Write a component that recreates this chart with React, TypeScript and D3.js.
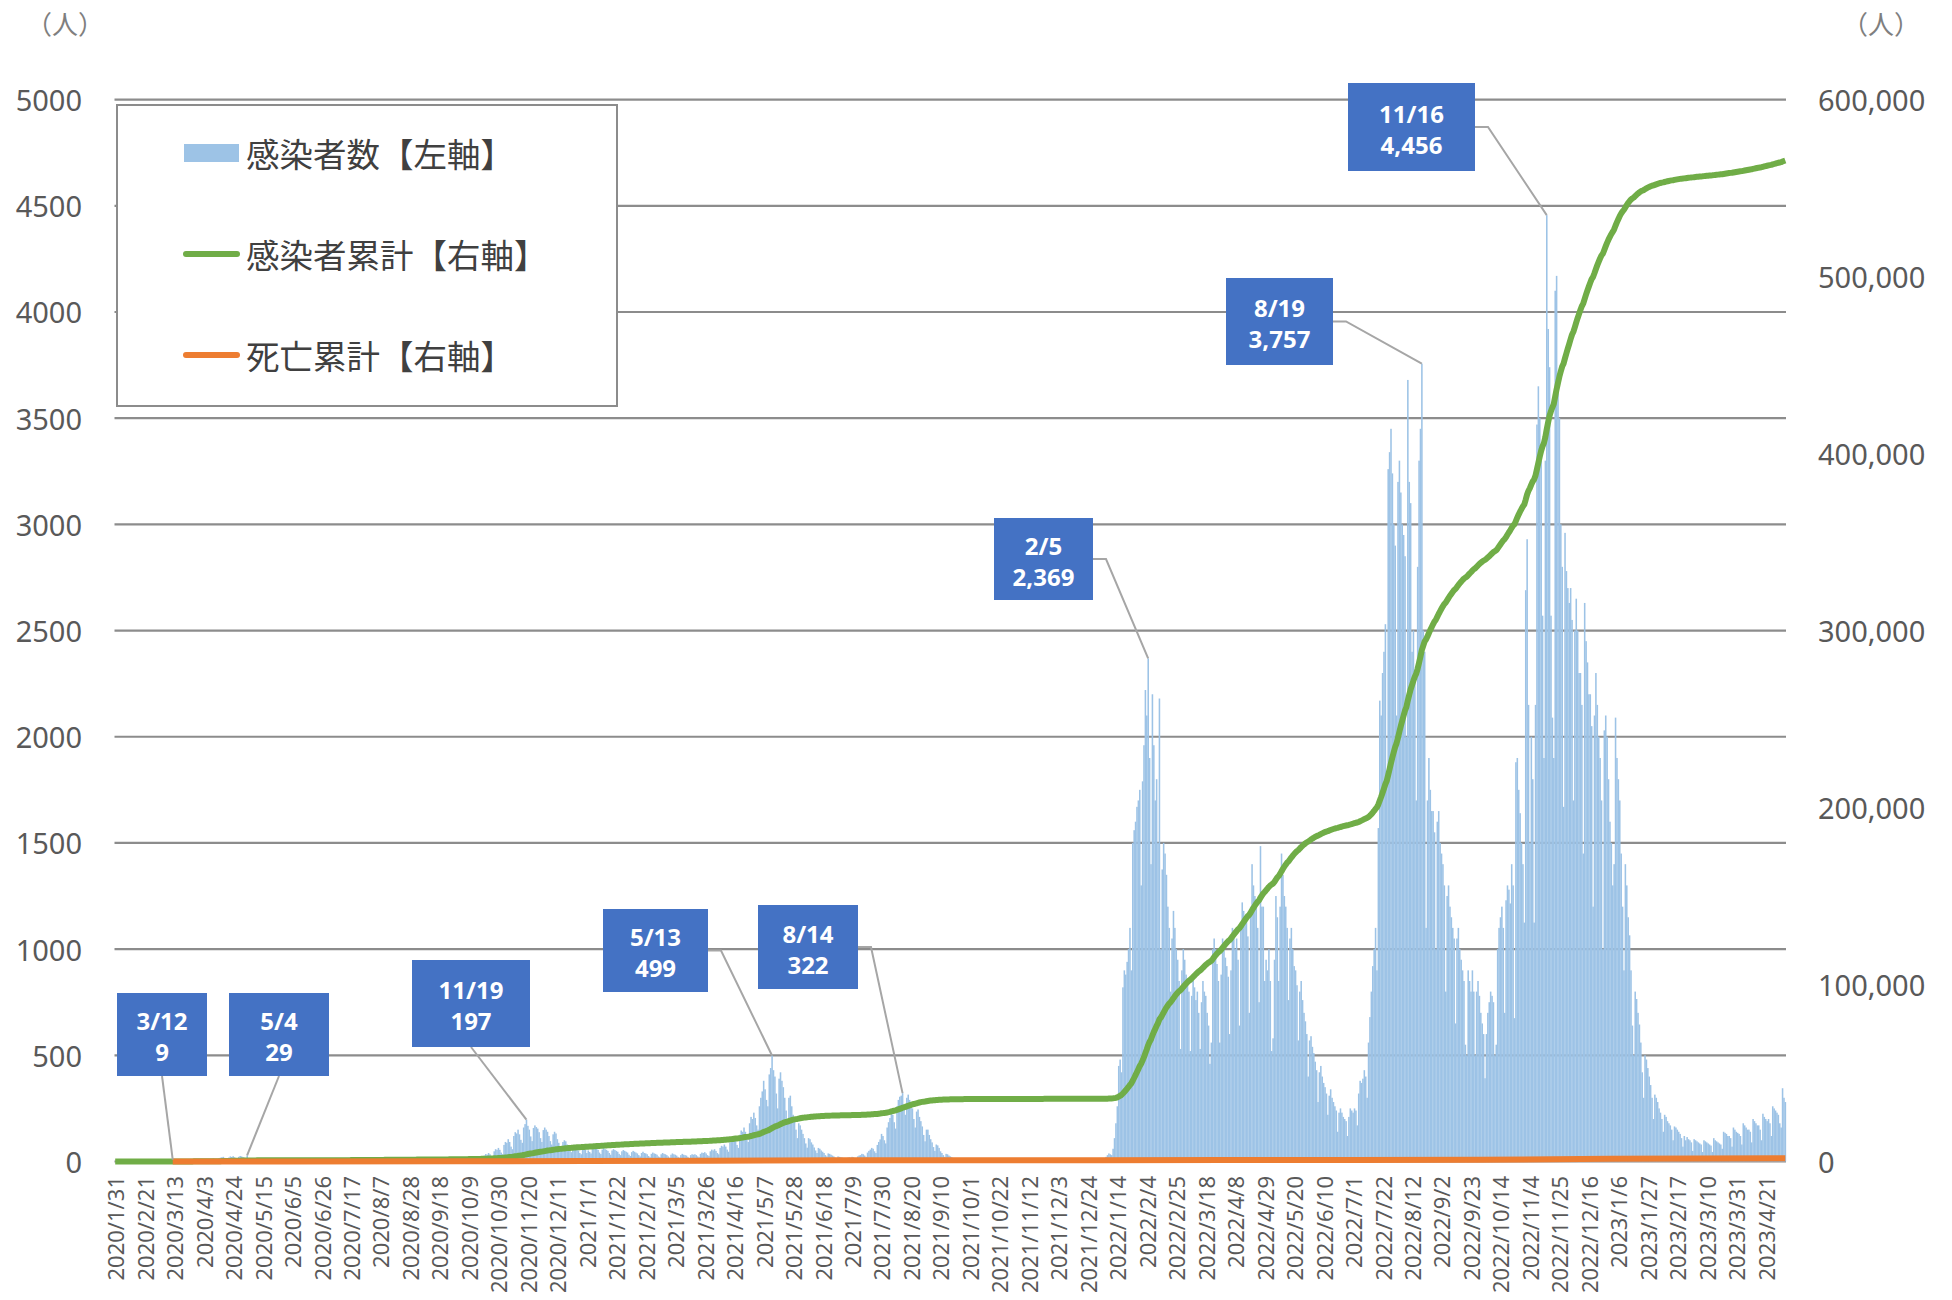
import React from "react";
import * as d3 from "d3";

// daily new cases, one row per week (2020 rows start on Friday 1/31)
const cases2020 = [
  0, 0, 0, 0, 0, 0, 0,
  0, 0, 0, 0, 0, 0, 0,
  0, 0, 0, 0, 1, 0, 0,
  0, 1, 0, 0, 1, 2, 1,
  2, 1, 0, 1, 2, 3, 2,
  3, 2, 1, 2, 4, 5, 9,
  4, 2, 1, 1, 3, 2, 2,
  1, 1, 0, 1, 2, 3, 2,
  3, 2, 1, 2, 4, 5, 3,
  5, 6, 4, 3, 8, 10, 12,
  14, 11, 9, 8, 15, 18, 20,
  22, 17, 12, 10, 19, 24, 21,
  25, 20, 15, 13, 22, 26, 24,
  21, 18, 16, 29, 12, 8, 10,
  9, 6, 4, 3, 5, 6, 4,
  3, 2, 1, 1, 2, 3, 2,
  1, 0, 1, 0, 1, 2, 1,
  1, 0, 0, 0, 1, 1, 0,
  1, 2, 0, 1, 2, 3, 1,
  2, 1, 1, 0, 2, 3, 2,
  3, 2, 1, 1, 3, 4, 2,
  2, 3, 1, 1, 2, 4, 3,
  3, 2, 2, 1, 4, 5, 3,
  4, 3, 2, 2, 5, 6, 4,
  5, 4, 3, 2, 6, 7, 5,
  6, 5, 4, 3, 7, 8, 6,
  8, 6, 5, 4, 9, 10, 8,
  9, 7, 5, 4, 8, 10, 9,
  8, 7, 5, 3, 7, 9, 8,
  7, 6, 4, 3, 6, 8, 7,
  6, 5, 4, 3, 6, 7, 6,
  6, 5, 3, 3, 5, 7, 6,
  7, 5, 4, 3, 6, 8, 7,
  8, 6, 5, 4, 7, 9, 8,
  9, 8, 6, 5, 10, 12, 11,
  12, 10, 8, 6, 13, 15, 14,
  16, 13, 10, 8, 18, 22, 20,
  24, 20, 15, 12, 28, 35, 32,
  40, 34, 26, 20, 48, 58, 55,
  64, 55, 42, 34, 78, 92, 88,
  105, 92, 70, 58, 120, 138, 132,
  150, 128, 102, 88, 160, 176, 197,
  168, 150, 118, 96, 158, 170, 162,
  155, 138, 110, 92, 148, 160, 150,
  140, 120, 96, 80, 128, 140, 132,
  105, 88, 70, 58, 92, 100, 95,
  80, 68, 52, 44, 70, 78, 72,
  62, 52, 40, 34, 55, 62, 58,
];

// 2021, rows start on Friday 1/1
const cases2021 = [
  40, 52, 45, 38, 58, 66, 62,
  60, 55, 42, 35, 56, 64, 58,
  55, 50, 40, 32, 52, 58, 54,
  50, 46, 36, 30, 48, 54, 50,
  46, 42, 32, 26, 44, 50, 46,
  42, 38, 30, 24, 40, 46, 40,
  38, 34, 26, 20, 36, 42, 38,
  36, 32, 24, 20, 34, 40, 36,
  34, 30, 24, 18, 32, 38, 34,
  32, 28, 22, 18, 30, 36, 32,
  30, 28, 22, 16, 30, 34, 32,
  34, 30, 24, 20, 36, 42, 40,
  44, 38, 30, 26, 48, 56, 52,
  58, 50, 40, 34, 64, 74, 70,
  80, 70, 56, 46, 90, 104, 98,
  112, 98, 78, 64, 126, 146, 140,
  160, 140, 112, 92, 180, 210, 200,
  230, 205, 170, 150, 260, 300, 330,
  380, 340, 290, 260, 410, 440, 499,
  430, 400, 320, 250, 390, 420, 380,
  350, 300, 240, 180, 300, 310, 260,
  220, 190, 150, 110, 180, 170, 150,
  130, 110, 85, 65, 110, 105, 90,
  80, 66, 52, 40, 64, 60, 52,
  46, 40, 30, 24, 38, 36, 32,
  28, 24, 18, 14, 24, 22, 20,
  18, 16, 12, 10, 18, 20, 18,
  22, 20, 16, 12, 24, 28, 30,
  36, 34, 28, 22, 42, 50, 56,
  64, 60, 48, 40, 78, 92, 104,
  130, 120, 100, 85, 160, 185, 205,
  230, 220, 185, 155, 260, 290, 305,
  310, 322, 270, 220, 300, 315, 290,
  280, 250, 200, 160, 235, 245, 210,
  190, 165, 125, 95, 150, 150, 125,
  105, 90, 68, 50, 80, 76, 64,
  48, 40, 30, 22, 36, 34, 28,
  24, 20, 14, 10, 16, 16, 14,
  12, 10, 8, 6, 10, 10, 8,
  8, 6, 5, 3, 6, 6, 5,
  4, 3, 2, 2, 4, 4, 3,
  3, 2, 1, 1, 3, 3, 2,
  2, 2, 1, 0, 2, 3, 2,
  2, 1, 1, 0, 2, 2, 1,
  1, 1, 0, 0, 1, 2, 1,
  1, 0, 0, 1, 1, 1, 0,
  1, 1, 0, 0, 1, 1, 1,
  0, 1, 0, 0, 1, 1, 0,
  1, 0, 0, 0, 1, 2, 1,
  1, 1, 0, 0, 2, 1, 1,
  2, 1, 1, 0, 2, 3, 2,
  3, 2, 2, 1, 3, 4, 4,
  5,
];

// 2022, rows start on Saturday 1/1
const cases2022 = [
  5, 4, 3, 8, 14, 22, 30,
  38, 34, 30, 60, 110, 180, 260,
  450, 480, 420, 820, 900, 880, 940,
  1000, 1100, 900, 1500, 1560, 1600, 1670,
  1700, 1750, 1300, 1790, 1960, 2220, 2100,
  2369, 1900, 1400, 2200, 1960, 1700, 1800,
  1500, 2180, 1000, 1375, 1500, 1450, 1350,
  1200, 1100, 800, 1050, 1180, 1100, 1000,
  950, 850, 530, 900, 1000, 950, 880,
  850, 800, 520, 780, 850, 820, 760,
  800, 700, 530, 750, 850, 800, 780,
  700, 640, 460, 560, 1000, 1050, 1000,
  930, 850, 560, 880, 1050, 1000, 960,
  920, 870, 600, 900, 1100, 1080, 1000,
  1050, 950, 640, 1100, 1220, 1180, 1150,
  1150, 1060, 700, 1200, 1400, 1300, 1250,
  1200, 1100, 750, 1485, 1200, 1200, 850,
  950, 900, 1000, 850, 520, 580, 950,
  1250, 1150, 850, 1200, 1450, 1350, 1250,
  1200, 1100, 760, 1050, 1100, 1000, 920,
  900, 830, 570, 800, 850, 760, 700,
  660, 600, 400, 570, 590, 540, 510,
  470, 430, 280, 420, 450, 400, 370,
  350, 320, 220, 310, 340, 300, 280,
  260, 240, 140, 230, 250, 230, 210,
  200, 190, 120, 210, 250, 240, 230,
  250, 240, 170, 320, 380, 370, 390,
  430, 400, 300, 560, 680, 800, 920,
  1000, 1100, 900, 1570, 2170, 2100, 2300,
  2400, 2530, 1800, 3260, 3340, 3450, 3240,
  3000, 2900, 2100, 3200, 3300, 3150, 3000,
  2950, 2850, 2000, 3680, 3200, 3100, 2400,
  2500, 2300, 1700, 2800, 3300, 3450, 3757,
  2500, 2400, 1100, 1700, 1900, 1750, 1650,
  1650, 1550, 1000, 1600, 1650, 1500, 1450,
  1400, 1300, 800, 1250, 1300, 1200, 1150,
  1100, 1050, 650, 1050, 1100, 1000, 950,
  900, 850, 550, 500, 900, 850, 800,
  900, 800, 500, 800, 850, 780, 700,
  650, 600, 392, 600, 700, 750, 800,
  780, 750, 500, 550, 1000, 1100, 1150,
  1200, 1100, 700, 1230, 1300, 1280, 1215,
  1400, 1300, 675, 1880, 1900, 1750, 1640,
  1500, 1400, 1125, 2690, 2930, 2150, 1500,
  2000, 1800, 1125, 2150, 3470, 3650, 3500,
  3300, 2570, 1900, 3300, 4456, 3920, 3740,
  2570, 2090, 1900, 4100, 4170, 3680, 3500,
  3000, 2800, 1670, 2960, 2780, 2700, 2630,
  2700, 2550, 1700, 2500, 2650, 2500, 2300,
  2300, 2150, 1450, 2630, 2450, 2350, 2200,
  2200, 2050, 1200, 2100, 2300, 2150, 2000,
  1900, 1700, 1000, 2030, 2100, 2000, 1800,
  1600,
];

// 2023, rows start on Sunday 1/1, last value 5/5
const cases2023 = [
  1500, 1300, 1400, 2090, 1900, 1800, 1700,
  1450, 1200, 900, 1400, 1300, 1150, 1065,
  900, 640, 500, 800, 765, 700, 645,
  560, 420, 300, 500, 480, 440, 400,
  360, 300, 200, 315, 300, 280, 250,
  230, 200, 140, 220, 210, 190, 180,
  170, 150, 100, 165, 160, 150, 140,
  130, 110, 70, 120, 100, 115, 105,
  100, 90, 50, 105, 100, 95, 90,
  85, 80, 45, 100, 95, 90, 85,
  80, 75, 45, 110, 100, 95, 90,
  85, 80, 60, 140, 135, 130, 120,
  120, 110, 70, 160, 150, 140, 135,
  130, 120, 80, 180, 170, 160, 150,
  150, 140, 90, 200, 190, 180, 170,
  170, 150, 100, 225, 210, 200, 190,
  200, 180, 120, 260, 250, 240, 230,
  220, 180, 160, 345, 300, 280,
];

// cumulative deaths (right axis), read at checkpoints
const deathDates = [
  "2020-03-12", "2020-05-31", "2020-09-30", "2020-12-31", "2021-03-31", "2021-06-30",
  "2021-12-31", "2022-03-31", "2022-06-30", "2022-09-30", "2022-12-31", "2023-05-05",
];
const deathTotals = [1, 60, 100, 300, 400, 650, 700, 800, 900, 1000, 1500, 1800];

const leftTicks = [0, 500, 1000, 1500, 2000, 2500, 3000, 3500, 4000, 4500, 5000];
const rightTicks = [0, 100000, 200000, 300000, 400000, 500000, 600000];
const labelStep = 21;

// callouts: date of the marked bar and where its box sits
const callouts = [
  { date: "2020-03-12", box: [117, 993, 90, 83], from: "bottom" },
  { date: "2020-05-04", box: [229, 993, 100, 83], from: "bottom" },
  { date: "2020-11-19", box: [412, 960, 118, 87], from: "bottom" },
  { date: "2021-05-13", box: [603, 909, 105, 83], from: "right" },
  { date: "2021-08-14", box: [758, 905, 100, 84], from: "right" },
  { date: "2022-02-05", box: [994, 518, 99, 82], from: "right" },
  { date: "2022-08-19", box: [1226, 278, 107, 87], from: "right" },
  { date: "2022-11-16", box: [1348, 83, 127, 88], from: "right" },
];

const startDate = new Date(2020, 0, 31);
const cases = [...cases2020, ...cases2021, ...cases2022, ...cases2023];
const cumulative = Array.from(d3.cumsum(cases));
const parse = d3.timeParse("%Y-%m-%d");
const dayIndex = (s: string) => d3.timeDay.count(startDate, parse(s) as Date);

const W = 1952;
const H = 1300;
const left = 114.5;
const right = 1786;
const top = 99.6;
const bottom = 1161.5;

const NUM_FONT = "'Noto Sans', 'Open Sans', sans-serif";
const JP_FONT = "'Noto Sans CJK JP', 'Noto Sans', sans-serif";

export default function App() {
  const x = d3
    .scaleBand<number>()
    .domain(d3.range(cases.length))
    .range([left, right])
    .padding(0);
  const bw = x.bandwidth();
  const cx = (i: number) => (x(i) as number) + bw / 2;

  const yL = d3.scaleLinear().domain([0, 5000]).range([bottom, top]);
  const yR = d3.scaleLinear().domain([0, 600000]).range([bottom, top]);

  const cumLine = d3
    .line<number>()
    .x((_, i) => cx(i))
    .y((d) => yR(d));

  const deathLine = d3
    .line<number>()
    .x((_, i) => cx(dayIndex(deathDates[i])))
    .y((d) => yR(d));

  const fmtTick = d3.timeFormat("%Y/%-m/%-d");
  const fmtShort = d3.timeFormat("%-m/%-d");
  const fmtNum = d3.format(",");

  return (
    <svg
      width={W}
      height={H}
      style={{ position: "absolute", left: 0, top: 0, background: "#fff" }}
    >
      {/* unit labels */}
      <text x={26} y={22} fontSize={26} fill="#7f7f7f" fontFamily={JP_FONT} dominantBaseline="central">
        （人）
      </text>
      <text x={1842} y={22} fontSize={26} fill="#7f7f7f" fontFamily={JP_FONT} dominantBaseline="central">
        （人）
      </text>

      {/* gridlines */}
      {leftTicks.map((t) => (
        <line key={t} x1={left} x2={right} y1={yL(t)} y2={yL(t)} stroke="#8c8c8c" strokeWidth={2.2} />
      ))}

      {/* left axis */}
      {leftTicks.map((t) => (
        <text
          key={"l" + t}
          x={82}
          y={yL(t)}
          textAnchor="end"
          dominantBaseline="central"
          fontSize={29}
          fill="#595959"
          fontFamily={NUM_FONT}
        >
          {t}
        </text>
      ))}

      {/* right axis */}
      {rightTicks.map((t) => (
        <text
          key={"r" + t}
          x={1818}
          y={yR(t)}
          dominantBaseline="central"
          fontSize={29}
          fill="#595959"
          fontFamily={NUM_FONT}
        >
          {fmtNum(t)}
        </text>
      ))}

      {/* bars */}
      <g fill="#9dc3e6">
        {cases.map((v, i) =>
          v > 0 ? (
            <rect key={i} x={x(i)} y={yL(v)} width={bw + 0.15} height={bottom - yL(v)} />
          ) : null
        )}
      </g>

      {/* cumulative cases */}
      <path d={cumLine(cumulative) || ""} fill="none" stroke="#70ad47" strokeWidth={6} strokeLinejoin="round" />
      {/* cumulative deaths */}
      <path d={deathLine(deathTotals) || ""} fill="none" stroke="#ed7d31" strokeWidth={6} strokeLinejoin="round" />

      {/* x labels */}
      {d3.range(0, cases.length, labelStep).map((i) => {
        const px = cx(i);
        const py = 1176;
        return (
          <text
            key={"x" + i}
            x={px}
            y={py}
            transform={`rotate(-90, ${px}, ${py})`}
            textAnchor="end"
            dominantBaseline="central"
            fontSize={22}
            fill="#595959"
            fontFamily={NUM_FONT}
          >
            {fmtTick(d3.timeDay.offset(startDate, i))}
          </text>
        );
      })}

      {/* legend */}
      <rect x={117} y={105} width={500} height={301} fill="#fff" stroke="#8c8c8c" strokeWidth={2} />
      <rect x={184} y={144} width={55} height={18} fill="#9dc3e6" />
      <line x1={186} x2={237} y1={254} y2={254} stroke="#70ad47" strokeWidth={6} strokeLinecap="round" />
      <line x1={186} x2={237} y1={355} y2={355} stroke="#ed7d31" strokeWidth={6} strokeLinecap="round" />
      {["感染者数【左軸】", "感染者累計【右軸】", "死亡累計【右軸】"].map((s, k) => (
        <text
          key={s}
          x={246}
          y={[152, 253, 354][k]}
          dominantBaseline="central"
          fontSize={33.5}
          fill="#404040"
          fontFamily={JP_FONT}
        >
          {s}
        </text>
      ))}

      {/* callouts */}
      {callouts.map((c) => {
        const i = dayIndex(c.date);
        const [bx, by, bw2, bh] = c.box;
        const tx = cx(i);
        const ty = yL(cases[i]);
        let pts: [number, number][];
        if (c.from === "bottom") {
          pts = [
            [bx + bw2 / 2, by + bh],
            [tx, ty],
          ];
        } else {
          const my = by + bh / 2;
          pts = [
            [bx + bw2, my],
            [bx + bw2 + 13, my],
            [tx, ty],
          ];
        }
        return (
          <g key={c.date}>
            <path d={d3.line()(pts) || ""} fill="none" stroke="#a6a6a6" strokeWidth={2} />
            <rect x={bx} y={by} width={bw2} height={bh} fill="#4472c4" />
            <text
              x={bx + bw2 / 2}
              y={by + bh / 2 - 14}
              textAnchor="middle"
              dominantBaseline="central"
              fontSize={24}
              fontWeight="bold"
              fill="#fff"
              fontFamily={NUM_FONT}
            >
              {fmtShort(parse(c.date) as Date)}
            </text>
            <text
              x={bx + bw2 / 2}
              y={by + bh / 2 + 17}
              textAnchor="middle"
              dominantBaseline="central"
              fontSize={24}
              fontWeight="bold"
              fill="#fff"
              fontFamily={NUM_FONT}
            >
              {fmtNum(cases[i])}
            </text>
          </g>
        );
      })}
    </svg>
  );
}
